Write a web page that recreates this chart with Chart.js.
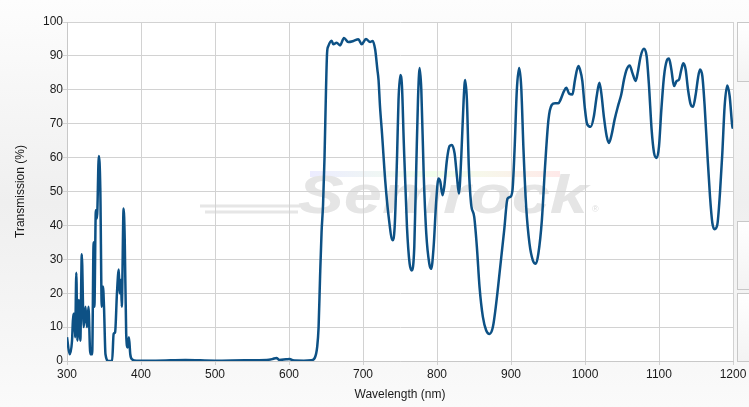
<!DOCTYPE html>
<html>
<head>
<meta charset="utf-8">
<script src="https://cdn.jsdelivr.net/npm/chart.js@4"></script>
<style>
  html, body { margin: 0; padding: 0; }
  body {
    width: 749px; height: 407px; overflow: hidden; position: relative;
    background: linear-gradient(#fdfdfd 0%, #efefef 50%, #fafafa 100%);
  }
  #chart { position: absolute; left: 0; top: 0; }
  .panel {
    position: absolute; left: 737px; width: 30px;
    border: 1px solid #c8c8c8; box-sizing: border-box;
    background: linear-gradient(#ffffff, #f3f3f3);
  }
</style>
</head>
<body>
<canvas id="chart" width="749" height="407"></canvas>
<div class="panel" style="top:22px;height:60px"></div>
<div class="panel" style="top:221px;height:69px"></div>
<div class="panel" style="top:293px;height:69px"></div>
<script>
// Transmission spectrum
const wavelengths = [
  300, 303.6, 306.8, 308, 310, 311, 312.6, 314, 316, 318, 320, 322.5, 325, 327, 329, 331.5, 334, 336, 337, 339,
  340.5, 343, 345, 347, 348.6, 350, 352, 356, 361, 363, 365, 367.5, 370, 371, 373, 374, 376.5, 378, 380, 382,
  383.7, 385.5, 388, 394, 420, 460, 500, 540, 570, 578, 583, 587, 596, 601, 605, 620, 630, 635, 638, 640,
  642, 644, 646, 648, 650, 651.5, 653, 657.6, 660, 664.4, 669, 674.3, 680, 687, 693.7, 698.2, 704, 709.5, 713, 716.5,
  719.4, 721, 723, 725.7, 730, 734.7, 740, 742.8, 746, 748, 750.4, 752.7, 755, 759.4, 763, 766, 769.3, 772, 774.3, 776.5,
  778.8, 782, 785.5, 789.6, 792.2, 795.4, 799, 802, 804.4, 807.5, 809.8, 813.4, 817, 820, 823.8, 827, 829.6, 832.8, 836, 838,
  840.4, 843, 846, 850.3, 853.9, 857.5, 862, 866.5, 871, 875.5, 880, 885.4, 890.8, 895.3, 898.9, 902, 904.8, 907.9, 911, 913.8,
  916.9, 920.5, 925, 929.5, 933.6, 937, 941.7, 946, 950.6, 955, 959.6, 964, 967, 971.6, 974.8, 978.4, 983, 986.5, 991, 993.2,
  996.4, 999.5, 1003, 1007.7, 1012, 1015.8, 1019.4, 1022, 1025.7, 1029.3, 1032.4, 1036, 1040, 1044.6, 1049, 1052.7, 1056.3, 1060.4, 1064, 1068.5,
  1071.6, 1075.2, 1079.7, 1083.3, 1086.5, 1090, 1093.3, 1096.9, 1100, 1103.2, 1106.8, 1110.4, 1113.5, 1116.7, 1120.3, 1123.9, 1127, 1130.2, 1132.9, 1136,
  1139.2, 1142.8, 1146, 1149.6, 1152.7, 1155.4, 1158.6, 1161.7, 1165.3, 1168.9, 1172.1, 1175.2, 1178.8, 1182.4, 1185.6, 1188.7, 1192.3, 1195.5, 1199, 1200
];
const transmission = [
  7, 2, 6, 12, 14, 7, 26, 6, 18, 6, 31.5, 10, 16, 10, 16, 2, 2, 35, 16, 44.5,
  42, 60.5, 51, 16, 22, 16, 2, 0, 0, 8, 8.5, 20, 27, 20, 24, 16, 45, 36, 8, 4,
  7, 2, 0.5, 0.1, 0.1, 0.3, 0.1, 0.2, 0.3, 0.6, 0.9, 0.3, 0.5, 0.6, 0.2, 0.1, 0.2, 1, 4, 10,
  25, 38, 46, 60, 80, 91, 92.8, 94.5, 93.4, 93.9, 93.1, 95.3, 94.1, 94.4, 94.9, 93.4, 95, 94.1, 94.4, 91.8,
  86, 82.9, 75, 67.1, 53.3, 42.5, 35.6, 39.6, 60.2, 77, 84.4, 80.9, 65.2, 39.6, 28.7, 26.7, 33.6, 57.3, 77, 86.4,
  80, 55.3, 37.6, 28.7, 27.2, 33.6, 47.4, 53.8, 52.9, 48.9, 51.4, 59.3, 63.4, 63.7, 61.2, 54.3, 49.4, 60.2, 77, 82.9,
  77, 57.3, 46.5, 42.5, 33.6, 21.8, 13, 9, 8, 10, 17, 27.7, 38.6, 47.9, 48.4, 50.4, 62.2, 80, 86.4, 80.9,
  62.2, 45.5, 34.6, 29.7, 28.7, 31.7, 41.5, 57.3, 71.1, 75.5, 76, 76, 77.1, 79.6, 80.6, 78.9, 78.6, 83, 87, 86,
  82.6, 75.2, 69.8, 69.1, 72.2, 78.1, 82.1, 79.1, 71.7, 66.3, 64.3, 66.8, 71.2, 75.2, 78.6, 83, 86, 87.2, 85, 82.6,
  85.5, 89.9, 92.1, 89.9, 81.1, 68.3, 61.4, 59.9, 63.3, 74.2, 84, 88.5, 89.2, 86, 81.1, 82.6, 83, 86, 87.8, 86,
  80.1, 75.7, 75, 78.6, 83.5, 86, 84, 75.2, 61.4, 48.6, 40.7, 38.9, 40.2, 49.6, 61.4, 75.2, 81.3, 78.1, 69.3, 68.5
];

const points = wavelengths.map((w, i) => ({ x: w, y: transmission[i] }));

// white plot area + faint logo watermark behind the grid
const plotBackground = {
  id: 'plotBackground',
  beforeDraw(chart) {
    const { ctx, chartArea: a } = chart;
    ctx.save();
    ctx.fillStyle = '#ffffff';
    ctx.fillRect(a.left, a.top, a.right - a.left, a.bottom - a.top);

    // swoosh lines
    ctx.strokeStyle = '#e6e6e6';
    ctx.lineWidth = 3;
    ctx.beginPath();
    ctx.moveTo(200, 206); ctx.lineTo(300, 206);
    ctx.moveTo(205, 212); ctx.lineTo(298, 212);
    ctx.stroke();
    // faint colour stripe on top
    const g = ctx.createLinearGradient(310, 0, 560, 0);
    g.addColorStop(0, 'rgba(200,200,255,0.35)');
    g.addColorStop(0.5, 'rgba(220,255,200,0.35)');
    g.addColorStop(1, 'rgba(255,200,200,0.4)');
    ctx.fillStyle = g;
    ctx.fillRect(310, 171, 250, 6);

    // word mark
    ctx.font = 'italic bold 54px "Liberation Sans", Arial, sans-serif';
    const w = ctx.measureText('Semrock').width;
    ctx.translate(298, 213);
    ctx.scale(290 / w, 1);
    ctx.fillStyle = '#e5e5e5';
    ctx.fillText('Semrock', 0, 0);
    ctx.restore();

    ctx.save();
    ctx.font = '9px "Liberation Sans", Arial, sans-serif';
    ctx.fillStyle = '#dedede';
    ctx.fillText('®', 592, 212);
    ctx.restore();
  }
};

const tickFont = { family: '"Liberation Sans", Arial, sans-serif', size: 12 };

new Chart(document.getElementById('chart'), {
  type: 'line',
  data: {
    datasets: [{
      data: points,
      borderColor: '#0d5185',
      borderWidth: 2.5,
      pointRadius: 0,
      cubicInterpolationMode: 'monotone',
      fill: false
    }]
  },
  options: {
    responsive: false,
    animation: false,
    devicePixelRatio: 1,
    layout: { padding: { left: 0, top: 22, right: 16, bottom: 0 } },
    plugins: { legend: { display: false }, tooltip: { enabled: false } },
    scales: {
      x: {
        type: 'linear',
        min: 300,
        max: 1200,
        ticks: { stepSize: 100, color: '#1a1a1a', font: tickFont, padding: 2, maxRotation: 0,
                 callback: (v) => String(v) },
        grid: { color: '#d2d2d2', tickLength: 4, tickColor: '#d2d2d2' },
        border: { color: '#c8c8c8' },
        title: { display: true, text: 'Wavelength (nm)', color: '#1a1a1a', font: tickFont, padding: { top: 2, bottom: 5 } },
        afterFit(scale) { scale.height = 46; }
      },
      y: {
        min: 0,
        max: 100,
        ticks: { stepSize: 10, color: '#1a1a1a', font: tickFont, padding: 0 },
        grid: { color: '#d2d2d2', tickLength: 4, tickColor: '#d2d2d2' },
        border: { color: '#c8c8c8' },
        title: { display: true, text: 'Transmission (%)', color: '#1a1a1a', font: tickFont, padding: { top: 13, bottom: 0 } },
        afterFit(scale) { scale.width = 67; }
      }
    }
  },
  plugins: [plotBackground]
});
</script>
</body>
</html>
